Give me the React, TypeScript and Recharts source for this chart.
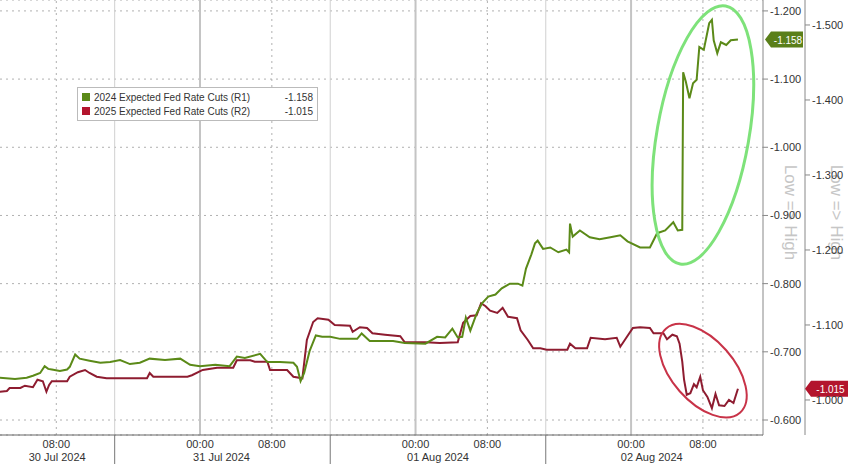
import { LineChart, Line, XAxis, YAxis, CartesianGrid, ReferenceLine, ReferenceDot, Legend } from "recharts";

// x = hours since 30 Jul 2024 00:00
const t2024 = [
  1.7, 3.4, 4.7, 5.4, 6.2, 6.7, 7.1, 7.5, 8.4, 9.2,
  9.5, 10.1, 10.6, 11.7, 12.9, 14.0, 15.1, 16.2, 17.3, 18.4,
  20.1, 21.8, 22.9, 24.0, 25.7, 27.3, 28.1, 29.0, 30.7, 31.5,
  32.9, 34.4, 34.8, 35.2, 35.6, 36.2, 36.9, 37.6, 38.5, 39.6,
  41.5, 42.0, 42.9, 45.5, 46.8, 49.1, 50.4, 51.3, 52.1, 52.7,
  53.2, 53.6, 54.1, 54.8, 55.4, 56.1, 56.9, 57.6, 58.5, 59.4,
  59.9, 60.3, 60.9, 61.3, 61.6, 62.2, 63.0, 63.9, 64.8, 65.1,
  65.2, 65.5, 66.3, 67.4, 68.5, 69.7, 70.8, 71.6, 73.0, 74.1,
  74.9, 75.8, 76.7, 77.2, 77.7, 77.8, 78.1, 78.5, 78.9, 79.3,
  79.6, 80.1, 80.7, 81.0, 81.2, 81.6, 82.0, 82.6, 83.1, 83.9,
];
const cuts2024 = [
  -0.662, -0.660, -0.662, -0.665, -0.669, -0.679, -0.675, -0.674, -0.672, -0.674,
  -0.678, -0.696, -0.690, -0.687, -0.684, -0.685, -0.688, -0.682, -0.684, -0.690,
  -0.688, -0.690, -0.681, -0.679, -0.681, -0.679, -0.693, -0.691, -0.697, -0.685,
  -0.685, -0.684, -0.678, -0.657, -0.669, -0.701, -0.724, -0.722, -0.722, -0.719,
  -0.719, -0.727, -0.716, -0.716, -0.713, -0.712, -0.722, -0.721, -0.734, -0.721,
  -0.722, -0.750, -0.731, -0.756, -0.771, -0.781, -0.784, -0.793, -0.800, -0.800,
  -0.797, -0.822, -0.843, -0.859, -0.863, -0.851, -0.853, -0.846, -0.850, -0.846,
  -0.888, -0.869, -0.878, -0.868, -0.865, -0.868, -0.871, -0.862, -0.853, -0.853,
  -0.874, -0.878, -0.890, -0.878, -0.879, -1.110, -1.096, -1.072, -1.094, -1.099,
  -1.147, -1.143, -1.182, -1.187, -1.157, -1.138, -1.154, -1.150, -1.157, -1.158,
];

const t2025 = [
  1.7, 2.5, 2.8, 4.0, 4.5, 5.4, 5.9, 6.5, 6.9, 7.2,
  7.5, 9.2, 9.5, 10.4, 11.2, 11.7, 12.5, 13.6, 16.2, 18.1,
  18.4, 18.8, 22.6, 23.1, 24.3, 25.9, 27.7, 28.1, 29.6, 30.1,
  31.5, 31.8, 33.7, 34.4, 35.4, 35.9, 36.6, 37.1, 38.3, 39.0,
  40.7, 41.0, 41.8, 42.6, 43.2, 44.6, 46.3, 46.8, 49.1, 50.7,
  52.7, 53.3, 54.1, 54.8, 55.3, 55.8, 56.3, 57.1, 57.7, 58.3,
  59.3, 59.7, 60.5, 61.1, 61.9, 62.6, 64.9, 65.2, 65.8, 67.1,
  67.5, 69.1, 70.4, 70.8, 71.3, 72.2, 73.0, 74.1, 74.5, 75.6,
  76.0, 76.6, 77.1, 77.4, 77.7, 77.9, 78.2, 78.6, 79.0, 79.3,
  79.7, 80.0, 80.5, 81.0, 81.4, 81.8, 82.4, 82.9, 83.4, 83.9,
];
const cuts2025 = [
  -1.011, -1.012, -1.016, -1.016, -1.019, -1.017, -1.027, -1.025, -1.011, -1.020,
  -1.025, -1.025, -1.031, -1.037, -1.040, -1.036, -1.031, -1.029, -1.029, -1.029,
  -1.036, -1.031, -1.031, -1.033, -1.040, -1.043, -1.043, -1.053, -1.053, -1.051,
  -1.051, -1.040, -1.040, -1.031, -1.029, -1.080, -1.104, -1.109, -1.107, -1.100,
  -1.099, -1.091, -1.097, -1.096, -1.089, -1.087, -1.085, -1.077, -1.077, -1.076,
  -1.077, -1.103, -1.112, -1.113, -1.129, -1.125, -1.119, -1.116, -1.123, -1.111,
  -1.109, -1.093, -1.080, -1.069, -1.069, -1.067, -1.067, -1.075, -1.069, -1.069,
  -1.083, -1.081, -1.083, -1.071, -1.080, -1.096, -1.097, -1.096, -1.089, -1.089,
  -1.081, -1.087, -1.085, -1.075, -1.051, -1.027, -1.007, -1.009, -1.021, -1.017,
  -1.031, -1.013, -1.004, -0.989, -1.008, -0.993, -0.992, -1.000, -0.996, -1.015,
];

const seriesNames = ["2024 Expected Fed Rate Cuts (R1)", "2025 Expected Fed Rate Cuts (R2)"];
const lineColors = ["#5b8a18", "#8e1c30"];
const badgeColors = ["#5a7f1a", "#b3152d"];

const timeTicks = [8, 24, 32, 48, 56, 72, 80];
const timeLabels = ["08:00", "00:00", "08:00", "00:00", "08:00", "00:00", "08:00"];
const dayBreaks = [14.5, 38.5, 62.5];
const dateCenters = [8.1, 26.4, 50.5, 74.3];
const dateLabels = ["30 Jul 2024", "31 Jul 2024", "01 Aug 2024", "02 Aug 2024"];
const midnights = [24, 48, 72];
const eights = [8, 32, 56, 80];

const r1Ticks = [-1.2, -1.1, -1.0, -0.9, -0.8, -0.7, -0.6];
const r2Ticks = [-1.5, -1.4, -1.3, -1.2, -1.1, -1.0];

const X_START = 1.73;
const X_END = 86.69;

const data2024 = t2024.map((t, i) => ({ t, v: cuts2024[i] }));
const data2025 = t2025.map((t, i) => ({ t, v: cuts2025[i] }));
const last2024 = cuts2024[cuts2024.length - 1];
const last2025 = cuts2025[cuts2025.length - 1];

const FONT = "'Liberation Sans', Arial, sans-serif";

function XTick(props: any) {
  const { x, y, payload } = props;
  const v = payload.value;
  const ti = timeTicks.indexOf(v);
  if (ti >= 0) {
    return (
      <text x={x} y={y + 13} textAnchor="middle" fontSize={11} fill="#333">
        {timeLabels[ti]}
      </text>
    );
  }
  if (dayBreaks.includes(v)) {
    return <line x1={x} x2={x} y1={y} y2={y + 29} stroke="#777" strokeWidth={1} />;
  }
  const di = dateCenters.indexOf(v);
  return (
    <text x={x} y={y + 26} textAnchor="middle" fontSize={11} fill="#333">
      {dateLabels[di]}
    </text>
  );
}

function sideLabel(shift: number) {
  return (props: any) => {
    const vb = props.viewBox;
    const cx = vb.x + vb.width / 2 + shift;
    const cy = vb.y + vb.height / 2 - 5;
    return (
      <text
        x={cx}
        y={cy}
        transform={`rotate(90, ${cx}, ${cy})`}
        textAnchor="middle"
        dominantBaseline="central"
        fontSize={17}
        fill="#c6c6c6"
      >
        {"Low => High"}
      </text>
    );
  };
}

function badge(offset: number, w: number, fill: string, text: string) {
  return (p: any) => {
    const x0 = p.cx + offset;
    const cy = p.cy;
    return (
      <g>
        <path
          d={`M${x0},${cy} L${x0 + 6},${cy - 8} L${x0 + w},${cy - 8} L${x0 + w},${cy + 8} L${x0 + 6},${cy + 8} Z`}
          fill={fill}
        />
        <text x={x0 + 4 + w / 2} y={cy + 4} textAnchor="middle" fontSize={10} fill="#fff">
          {text}
        </text>
      </g>
    );
  };
}

function ellipse(rx: number, ry: number, angle: number, stroke: string, sw: number) {
  return (p: any) => (
    <ellipse
      cx={p.cx}
      cy={p.cy}
      rx={rx}
      ry={ry}
      transform={`rotate(${angle}, ${p.cx}, ${p.cy})`}
      fill="none"
      stroke={stroke}
      strokeWidth={sw}
    />
  );
}

function LegendBox() {
  const vals = [last2024, last2025];
  return (
    <div
      style={{
        border: "1px solid #bbb",
        background: "#fff",
        padding: "2px 4px",
        fontSize: 10,
        color: "#333",
        fontFamily: FONT,
        width: 231,
      }}
    >
      {seriesNames.map((name, i) => (
        <div key={name} style={{ display: "flex", alignItems: "center", height: 14 }}>
          <span style={{ width: 8, height: 8, background: i === 0 ? lineColors[0] : badgeColors[1], marginRight: 4 }} />
          <span style={{ flex: 1 }}>{name}</span>
          <span>{vals[i].toFixed(3)}</span>
        </div>
      ))}
    </div>
  );
}

export default function App() {
  return (
    <div style={{ position: "absolute", left: 0, top: 0, background: "#fff", fontFamily: FONT }}>
      <LineChart width={848} height={464} margin={{ top: 0, right: 0, bottom: 0, left: 0 }}>
        <CartesianGrid yAxisId="r1" vertical={false} stroke="#b0b0b0" strokeDasharray="2 4" />
        <XAxis
          dataKey="t"
          type="number"
          domain={[X_START, X_END]}
          allowDataOverflow
          ticks={[...timeTicks, ...dayBreaks, ...dateCenters]}
          interval={0}
          height={29}
          tickSize={0}
          tickMargin={0}
          tick={<XTick />}
          stroke="#666"
        />
        <YAxis
          yAxisId="r1"
          orientation="right"
          width={42}
          reversed
          domain={[-1.216, -0.578]}
          allowDataOverflow
          ticks={r1Ticks}
          tickFormatter={(v: number) => v.toFixed(3)}
          tickSize={5}
          tickMargin={2}
          tick={{ fontSize: 11, fill: "#333" }}
          stroke="#888"
          label={sideLabel(6)}
        />
        <YAxis
          yAxisId="r2"
          orientation="right"
          width={43}
          reversed
          domain={[-1.5333, -0.9533]}
          allowDataOverflow
          ticks={r2Ticks}
          tickFormatter={(v: number) => v.toFixed(3)}
          tickSize={5}
          tickMargin={2}
          tick={{ fontSize: 11, fill: "#333" }}
          stroke="#888"
          label={sideLabel(10)}
        />
        {midnights.map((x) => (
          <ReferenceLine key={"m" + x} x={x} yAxisId="r1" stroke="#c4c4c4" strokeWidth={2} />
        ))}
        {eights.map((x) => (
          <ReferenceLine key={"e" + x} x={x} yAxisId="r1" stroke="#b0b0b0" strokeDasharray="2 4" />
        ))}
        {dayBreaks.map((x) => (
          <ReferenceLine key={"d" + x} x={x} yAxisId="r1" stroke="#d0d0d0" strokeWidth={1} />
        ))}
        <Line
          data={data2025}
          dataKey="v"
          yAxisId="r2"
          type="linear"
          stroke={lineColors[1]}
          strokeWidth={2}
          dot={false}
          isAnimationActive={false}
        />
        <Line
          data={data2024}
          dataKey="v"
          yAxisId="r1"
          type="linear"
          stroke={lineColors[0]}
          strokeWidth={2}
          dot={false}
          isAnimationActive={false}
        />
        <ReferenceDot x={80.0} y={-1.018} yAxisId="r1" ifOverflow="visible" shape={ellipse(46, 131, 10, "#7ee27a", 3)} />
        <ReferenceDot x={80.0} y={-1.039} yAxisId="r2" ifOverflow="visible" shape={ellipse(56, 31, 48.6, "#c83348", 2)} />
        <ReferenceDot x={X_END} y={last2024} yAxisId="r1" ifOverflow="visible" shape={badge(2, 38, badgeColors[0], last2024.toFixed(3))} />
        <ReferenceDot x={X_END} y={last2025} yAxisId="r2" ifOverflow="visible" shape={badge(42, 43, badgeColors[1], last2025.toFixed(3))} />
        <Legend
          layout="horizontal"
          verticalAlign="middle"
          align="center"
          wrapperStyle={{ top: 87, left: 77, width: "auto" }}
          content={() => <LegendBox />}
        />
      </LineChart>
    </div>
  );
}
